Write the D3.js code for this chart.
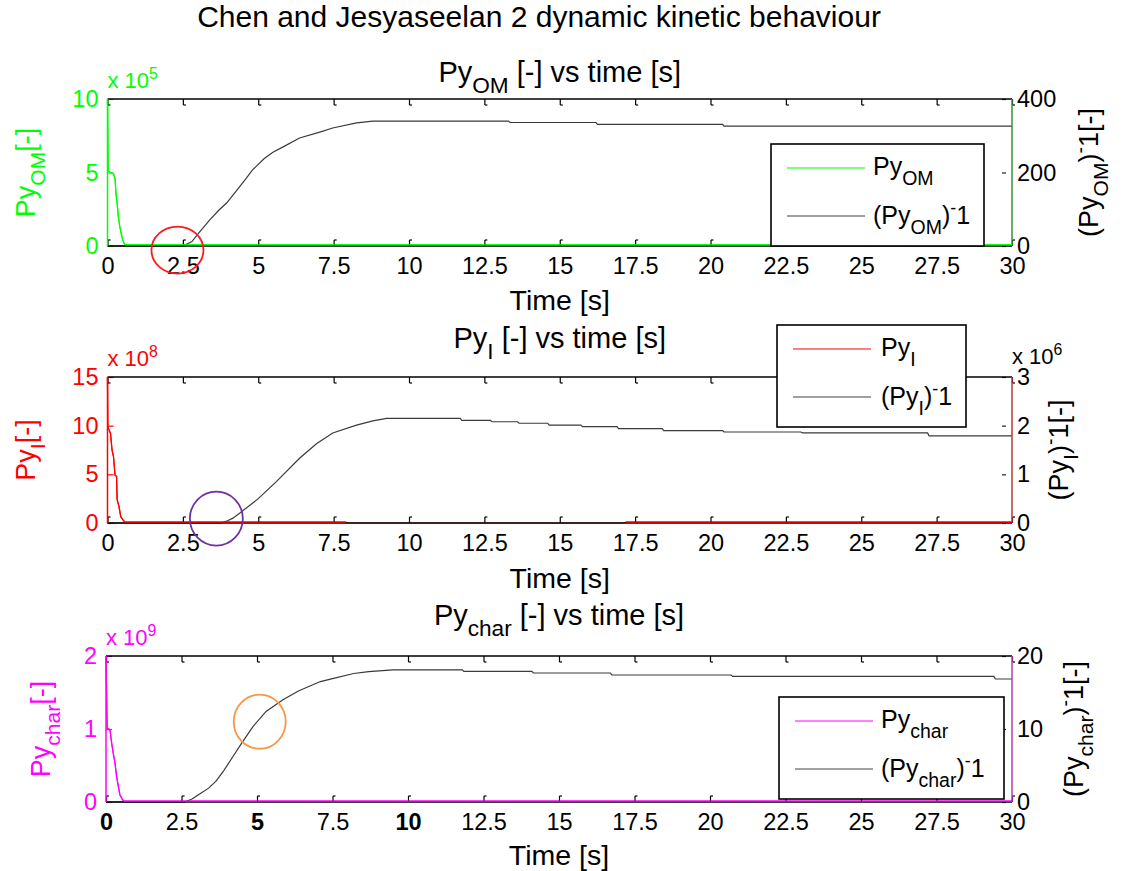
<!DOCTYPE html>
<html>
<head>
<meta charset="utf-8">
<script src="https://cdn.jsdelivr.net/npm/d3@7"></script>
<style>
  body { margin: 0; background: #fff; }
  svg { display: block; }
  text { font-family: "Liberation Sans", Arial, Helvetica, sans-serif; }
</style>
</head>
<body>
<svg id="fig" width="1126" height="871"></svg>
<script>
// ---- shared time axis ----
const timeTicks = [0, 2.5, 5, 7.5, 10, 12.5, 15, 17.5, 20, 22.5, 25, 27.5, 30];
const timeTickLabels = ["0", "2.5", "5", "7.5", "10", "12.5", "15", "17.5", "20", "22.5", "25", "27.5", "30"];

// ---- Py_OM (left axis, x 10^5) and its inverse (right axis) ----
const omTime   = [0, 0.02, 0.1, 0.2, 0.25, 0.28, 0.32, 0.36, 0.41, 0.46, 0.5, 0.55, 0.6, 30];
const omValues = [1.0e6, 5.1e5, 5.0e5, 4.9e5, 4.6e5, 3.6e5, 2.9e5, 2.0e5, 1.3e5, 0.8e5, 0.45e5, 0.18e5, 0.07e5, 0.07e5];
const omInvTime   = [0, 2.5, 2.8, 3.05, 3.4, 3.7, 3.95, 4.3, 4.6, 4.81, 5.2, 5.5, 5.81, 6.37, 7.04, 7.47, 8.26, 8.8, 13.3, 13.35, 16.2, 16.25, 20.4, 20.45, 30];
const omInvValues = [0, 0, 12, 38, 72, 98, 117, 153, 184, 207, 238, 256, 269, 294, 310, 321, 335, 340, 340, 336, 336, 331, 331, 326, 326];

// ---- Py_I (left axis, x 10^8) and its inverse (right axis, x 10^6) ----
const iTime   = [0, 0.01, 0.1, 0.15, 0.2, 0.25, 0.3, 0.32, 0.38, 0.44, 0.52, 0.58, 7.9, 8.0, 17.1, 17.2, 30];
const iValues = [15e8, 9.9e8, 9.2e8, 7.5e8, 6.8e8, 4.9e8, 4.8e8, 2.4e8, 1.7e8, 0.65e8, 0.3e8, 0.08e8, 0.08e8, 0, 0, 0.08e8, 0.08e8];
const iInvTime   = [0, 3.77, 4.0, 4.16, 4.38, 5.0, 5.6, 6.37, 6.93, 7.47, 8.26, 8.8, 9.26, 11.7, 11.75, 12.7, 12.75, 13.6, 13.65, 14.6, 14.65, 15.7, 15.75, 16.9, 16.95, 18.4, 18.45, 20.4, 20.45, 23.0, 23.05, 27.2, 27.25, 30];
const iInvValues = [0, 0, 0.05e6, 0.1e6, 0.2e6, 0.5e6, 0.85e6, 1.33e6, 1.63e6, 1.85e6, 2.01e6, 2.1e6, 2.15e6, 2.15e6, 2.11e6, 2.11e6, 2.08e6, 2.08e6, 2.05e6, 2.05e6, 2.01e6, 2.01e6, 1.98e6, 1.98e6, 1.94e6, 1.94e6, 1.90e6, 1.90e6, 1.87e6, 1.87e6, 1.85e6, 1.85e6, 1.79e6, 1.79e6];

// ---- Py_char (left axis, x 10^9) and its inverse (right axis) ----
const charTime   = [0, 0.04, 0.13, 0.19, 0.24, 0.3, 0.35, 0.41, 0.46, 0.55, 0.6, 30];
const charValues = [2.0e9, 1.01e9, 0.99e9, 0.80e9, 0.67e9, 0.53e9, 0.35e9, 0.21e9, 0.10e9, 0.03e9, 0.012e9, 0.012e9];
const charInvTime   = [0, 2.6, 2.85, 3.1, 3.4, 3.65, 3.9, 4.2, 4.5, 4.86, 5.3, 5.86, 6.37, 7.1, 7.5, 8.2, 8.7, 9.5, 11.8, 11.85, 14.1, 14.15, 16.7, 16.75, 20.7, 20.75, 29.4, 29.45, 30];
const charInvValues = [0, 0, 0.4, 1.1, 1.9, 2.9, 4.3, 6.2, 8.1, 10.3, 12.4, 14.0, 15.2, 16.5, 16.9, 17.6, 17.85, 18.1, 18.1, 17.9, 17.9, 17.67, 17.67, 17.4, 17.4, 17.2, 17.2, 16.85, 16.85];

// ---- axis tick values / labels ----
const omTicks = [0, 5e5, 1e6],         omTickLabels = ["0", "5", "10"];
const omInvTicks = [0, 200, 400],      omInvTickLabels = ["0", "200", "400"];
const iTicks = [0, 5e8, 10e8, 15e8],   iTickLabels = ["0", "5", "10", "15"];
const iInvTicks = [0, 1e6, 2e6, 3e6],  iInvTickLabels = ["0", "1", "2", "3"];
const charTicks = [0, 1e9, 2e9],       charTickLabels = ["0", "1", "2"];
const charInvTicks = [0, 10, 20],      charInvTickLabels = ["0", "10", "20"];

// ---- highlighted points (time, right-axis value) ----
const markTime  = [2.32, 3.61, 5.09];
const markValue = [-11, 0.09e6, 11];

const FONT = "Liberation Sans, Arial, sans-serif";
const svg = d3.select("#fig");

// Text with TeX-like sub/superscripts built from tspans
function rich(g, x, y, parts, o) {
  const t = g.append("text")
    .attr("x", x).attr("y", y)
    .attr("font-size", o.size)
    .attr("fill", o.color || "#000")
    .attr("font-weight", o.weight || "normal")
    .attr("text-anchor", o.anchor || "start");
  if (o.rotate) t.attr("transform", `rotate(${o.rotate},${x},${y})`);
  let shift = 0;
  parts.forEach(p => {
    const s = typeof p === "string" ? { t: p } : p;
    let target = 0, size = o.size;
    if (s.sub !== undefined) { target = o.size * 0.38; size = o.size * 0.78; }
    if (s.sup !== undefined) { target = -o.size * 0.42; size = o.size * 0.72; }
    const txt = s.t !== undefined ? s.t : (s.sub !== undefined ? s.sub : s.sup);
    t.append("tspan").attr("dy", target - shift).attr("font-size", size).text(txt);
    shift = target;
  });
  return t;
}

const panels = [
  {
    top: 99, bottom: 246, left: 107.5, right: 1012,
    color: "#00ff00", rightColor: "#3a8f3a",
    t: omTime, v: omValues, ti: omInvTime, vi: omInvValues,
    ldom: [0, 1e6], lticks: omTicks, llabels: omTickLabels, lexp: "5",
    rdom: [0, 400], rticks: omInvTicks, rlabels: omInvTickLabels, rexp: null,
    name: "OM", title: 82, xlabel: 310,
    ylabelX: 35, rlabelX: 1098,
    legend: { x0: 771, x1: 984, y0: 144, y1: 246, l0: 787, l1: 865, tx: 873, ya: 168, yb: 216 },
    mark: { i: 0, rx: 26, ry: 23.5, color: "#ff1a1a" },
    boldTicks: []
  },
  {
    top: 377, bottom: 523, left: 107.5, right: 1012,
    color: "#ff0000", rightColor: "#b83a3a",
    t: iTime, v: iValues, ti: iInvTime, vi: iInvValues,
    ldom: [0, 15e8], lticks: iTicks, llabels: iTickLabels, lexp: "8",
    rdom: [0, 3e6], rticks: iInvTicks, rlabels: iInvTickLabels, rexp: "6",
    name: "I", title: 348, xlabel: 588,
    ylabelX: 35, rlabelX: 1068,
    legend: { x0: 777, x1: 966, y0: 325, y1: 427, l0: 793, l1: 871, tx: 881, ya: 349, yb: 397 },
    mark: { i: 1, rx: 26.5, ry: 27, color: "#7030a0" },
    boldTicks: []
  },
  {
    top: 656, bottom: 802, left: 106, right: 1012,
    color: "#ff00ff", rightColor: "#b040b0",
    t: charTime, v: charValues, ti: charInvTime, vi: charInvValues,
    ldom: [0, 2e9], lticks: charTicks, llabels: charTickLabels, lexp: "9",
    rdom: [0, 20], rticks: charInvTicks, rlabels: charInvTickLabels, rexp: null,
    name: "char", title: 625, xlabel: 865,
    ylabelX: 50, rlabelX: 1083,
    legend: { x0: 779, x1: 1004, y0: 697, y1: 799, l0: 795, l1: 873, tx: 881, ya: 721, yb: 769 },
    mark: { i: 2, rx: 26, ry: 27, color: "#f79646" },
    boldTicks: ["0", "5", "10"]
  }
];

// Figure title
svg.append("text").attr("x", 539).attr("y", 27)
  .attr("text-anchor", "middle").attr("font-size", 30)
  .text("Chen and Jesyaseelan 2 dynamic kinetic behaviour");

panels.forEach(P => {
  const g = svg.append("g");
  const x = d3.scaleLinear().domain([0, 30]).range([P.left, P.right]);
  const yL = d3.scaleLinear().domain(P.ldom).range([P.bottom, P.top]);
  const yR = d3.scaleLinear().domain(P.rdom).range([P.bottom, P.top]);
  const TS = 23.5;

  // series on the left axis
  g.append("path")
    .datum(P.t.map((t, i) => [t, P.v[i]]))
    .attr("fill", "none").attr("stroke", P.color).attr("stroke-width", 1.2)
    .attr("d", d3.line().x(d => x(d[0])).y(d => yL(d[1])));

  // bottom time axis (ticks point inward)
  const xb = g.append("g").attr("transform", `translate(0,${P.bottom})`)
    .call(d3.axisBottom(x).tickValues(timeTicks).tickSize(-6).tickPadding(11)
      .tickFormat((d, i) => timeTickLabels[i]));
  xb.select(".domain").remove();
  xb.selectAll(".tick line").attr("stroke", "#000").attr("stroke-width", 1.2);
  xb.selectAll(".tick").append("line").attr("x1", 0).attr("x2", 2.5).attr("y1", -6).attr("y2", -6)
    .attr("stroke", "#000").attr("stroke-width", 1.2);
  xb.selectAll(".tick text").attr("font-size", TS).attr("font-family", FONT).attr("fill", "#000")
    .attr("font-weight", d => P.boldTicks.includes(timeTickLabels[timeTicks.indexOf(d)]) ? "bold" : "normal");

  // top time axis (ticks only)
  const xt = g.append("g").attr("transform", `translate(0,${P.top})`)
    .call(d3.axisTop(x).tickValues(timeTicks).tickSize(-6).tickFormat(""));
  xt.select(".domain").remove();
  xt.selectAll(".tick line").attr("stroke", "#000").attr("stroke-width", 1.2);
  xt.selectAll(".tick").append("line").attr("x1", 0).attr("x2", 2.5).attr("y1", 6).attr("y2", 6)
    .attr("stroke", "#000").attr("stroke-width", 1.2);

  // left axis
  const yl = g.append("g").attr("transform", `translate(${P.left},0)`)
    .call(d3.axisLeft(yL).tickValues(P.lticks).tickSize(-6).tickPadding(9)
      .tickFormat((d, i) => P.llabels[i]));
  yl.select(".domain").remove();
  yl.selectAll(".tick line").attr("stroke", P.color).attr("stroke-width", 1.2);
  yl.selectAll(".tick text").attr("font-size", TS).attr("font-family", FONT).attr("fill", P.color);

  // right axis
  const yr = g.append("g").attr("transform", `translate(${P.right},0)`)
    .call(d3.axisRight(yR).tickValues(P.rticks).tickSize(-6).tickPadding(5)
      .tickFormat((d, i) => P.rlabels[i]));
  yr.select(".domain").remove();
  yr.selectAll(".tick line").attr("stroke", "#222").attr("stroke-width", 1.2)
    .attr("x1", -10).attr("x2", -6);
  yr.selectAll(".tick text").attr("font-size", TS).attr("font-family", FONT).attr("fill", "#000");

  // series on the right axis
  g.append("path")
    .datum(P.ti.map((t, i) => [t, P.vi[i]]))
    .attr("fill", "none").attr("stroke", "#3a3a3a").attr("stroke-width", 1.2)
    .attr("d", d3.line().x(d => x(d[0])).y(d => yR(d[1])));

  // axes frame
  g.append("line").attr("x1", P.left).attr("x2", P.right).attr("y1", P.top).attr("y2", P.top)
    .attr("stroke", "#000").attr("stroke-width", 1.3);
  g.append("line").attr("x1", P.left).attr("x2", P.right).attr("y1", P.bottom).attr("y2", P.bottom)
    .attr("stroke", "#000").attr("stroke-width", 1.3);
  g.append("line").attr("x1", P.left).attr("x2", P.left).attr("y1", P.top).attr("y2", P.bottom)
    .attr("stroke", P.color).attr("stroke-width", 1.5);
  g.append("line").attr("x1", P.right).attr("x2", P.right).attr("y1", P.top).attr("y2", P.bottom)
    .attr("stroke", P.rightColor).attr("stroke-width", 1.5);

  // redraw the near-zero tail of the left series above the frame
  g.append("path")
    .datum(P.t.map((t, i) => [t, P.v[i]]).filter(d => yL(d[1]) < P.bottom - 0.5 || d[0] > 1))
    .attr("fill", "none").attr("stroke", P.color).attr("stroke-width", 1.2)
    .attr("d", d3.line().defined(d => yL(d[1]) < P.bottom - 0.5).x(d => x(d[0])).y(d => yL(d[1])));

  // exponent labels
  rich(g, P.left, P.top - 11, ["x 10", { sup: P.lexp }], { size: 22, color: P.color });
  if (P.rexp) rich(g, P.right, P.top - 13, ["x 10", { sup: P.rexp }], { size: 22, color: "#000" });

  // titles and axis labels
  rich(g, (P.left + P.right) / 2, P.title, ["Py", { sub: P.name }, " [-] vs time [s]"],
    { size: 29, anchor: "middle" });
  g.append("text").attr("x", (P.left + P.right) / 2).attr("y", P.xlabel)
    .attr("text-anchor", "middle").attr("font-size", 28.5).text("Time [s]");
  const ymid = (P.top + P.bottom) / 2;
  rich(g, P.ylabelX, ymid, ["Py", { sub: P.name }, "[-]"],
    { size: 27, anchor: "middle", rotate: -90, color: P.color });
  rich(g, P.rlabelX, ymid, ["(Py", { sub: P.name }, ")", { sup: "-" }, "1[-]"],
    { size: 27, anchor: "middle", rotate: -90, color: "#000" });

  // highlight ring
  const m = P.mark;
  g.append("ellipse")
    .attr("cx", x(markTime[m.i])).attr("cy", yR(markValue[m.i]))
    .attr("rx", m.rx).attr("ry", m.ry)
    .attr("fill", "none").attr("stroke", m.color).attr("stroke-width", 1.8);

  // legend
  const L = P.legend;
  g.append("rect").attr("x", L.x0).attr("y", L.y0).attr("width", L.x1 - L.x0).attr("height", L.y1 - L.y0)
    .attr("fill", "#fff").attr("stroke", "#000").attr("stroke-width", 1.6);
  g.append("line").attr("x1", L.l0).attr("x2", L.l1).attr("y1", L.ya).attr("y2", L.ya)
    .attr("stroke", P.color).attr("stroke-width", 1.2);
  g.append("line").attr("x1", L.l0).attr("x2", L.l1).attr("y1", L.yb).attr("y2", L.yb)
    .attr("stroke", "#808080").attr("stroke-width", 1.5);
  rich(g, L.tx, L.ya + 7, ["Py", { sub: P.name }], { size: 25 });
  rich(g, L.tx, L.yb + 8, ["(Py", { sub: P.name }, ")", { sup: "-" }, "1"], { size: 25 });
});
</script>
</body>
</html>
